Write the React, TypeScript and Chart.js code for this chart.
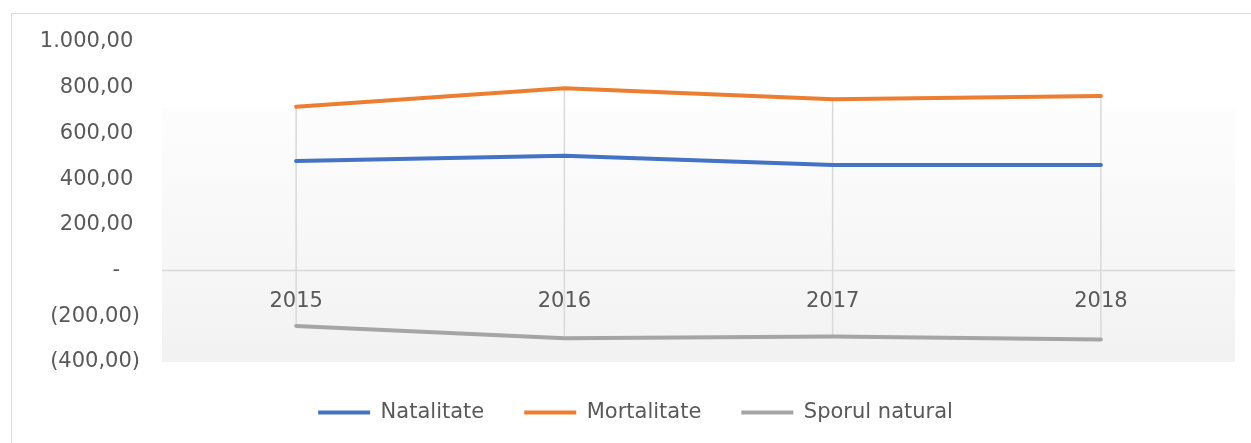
import React, { useEffect, useRef } from "react";
import { Chart, registerables } from "chart.js";

Chart.register(...registerables);

const categories = ["2015", "2016", "2017", "2018"];
const natalitate = [479, 502, 462, 462];
const mortalitate = [717, 798, 750, 764];
const sporulNatural = [-242, -296, -288, -302];
const seriesNames = ["Natalitate", "Mortalitate", "Sporul natural"];
const seriesColors = ["#4472C4", "#ED7D31", "#A5A5A5"];

const FONT = "'DejaVu Sans', sans-serif";
const TEXT = "#595959";

function fmt(v: number): string {
  if (v === 0) return "-\u2007 ";
  const abs = Math.abs(v);
  const [intPart, dec] = abs.toFixed(2).split(".");
  const withSep = intPart.replace(/\B(?=(\d{3})+(?!\d))/g, ".");
  const s = withSep + "," + dec;
  return v < 0 ? "(" + s + ")" : s + " ";
}

const bgPlugin = {
  id: "plotBg",
  beforeDraw(chart: any) {
    const { ctx, chartArea } = chart;
    const { left, right, top, bottom } = chartArea;
    const gTop = top + (bottom - top) * 0.206;
    const g = ctx.createLinearGradient(0, gTop, 0, bottom);
    g.addColorStop(0, "#fdfdfd");
    g.addColorStop(1, "#f2f2f2");
    ctx.save();
    ctx.fillStyle = g;
    ctx.fillRect(left, gTop, right - left, bottom - gTop);
    // zero line
    const y0 = chart.scales.y.getPixelForValue(0);
    ctx.strokeStyle = "#d9d9d9";
    ctx.lineWidth = 1.5;
    ctx.beginPath();
    ctx.moveTo(left, y0);
    ctx.lineTo(right, y0);
    ctx.stroke();
    // drop lines
    const xs = chart.scales.x;
    const ys = chart.scales.y;
    categories.forEach((_, i) => {
      const vals = chart.data.datasets.map((d: any) => d.data[i] as number);
      const hi = Math.max(0, ...vals);
      const lo = Math.min(0, ...vals);
      const x = xs.getPixelForValue(i);
      ctx.beginPath();
      ctx.moveTo(x, ys.getPixelForValue(hi));
      ctx.lineTo(x, ys.getPixelForValue(lo));
      ctx.stroke();
    });
    ctx.restore();
  },
};

export default function App() {
  const ref = useRef<HTMLCanvasElement | null>(null);
  useEffect(() => {
    if (!ref.current) return;
    const series = [natalitate, mortalitate, sporulNatural];
    const chart = new Chart(ref.current, {
      type: "line",
      data: {
        labels: categories,
        datasets: series.map((data, i) => ({
          label: seriesNames[i],
          data,
          borderColor: seriesColors[i],
          backgroundColor: seriesColors[i],
          borderWidth: 4,
          borderCapStyle: "round",
          borderJoinStyle: "round",
          pointRadius: 0,
          pointStyle: "line",
          tension: 0,
        })),
      },
      options: {
        animation: false,
        responsive: false,
        maintainAspectRatio: false,
        layout: { padding: { left: 36, right: 16, top: 42, bottom: 10 } },
        plugins: {
          legend: {
            position: "bottom",
            labels: {
              usePointStyle: true,
              pointStyleWidth: 52,
              padding: 40,
              color: TEXT,
              font: { family: FONT, size: 21 },
            },
          },
          tooltip: { enabled: false },
        },
        scales: {
          x: {
            type: "category",
            offset: true,
            position: { y: 0 } as any,
            grid: { display: false, drawTicks: false },
            border: { display: false },
            ticks: {
              padding: 18,
              color: TEXT,
              font: { family: FONT, size: 21 },
              maxRotation: 0,
            },
          },
          y: {
            min: -400,
            max: 1000,
            grid: { display: false, drawTicks: false },
            border: { display: false },
            afterFit(scale: any) {
              scale.width = 126;
            },
            ticks: {
              stepSize: 200,
              padding: 22,
              color: TEXT,
              font: { family: FONT, size: 21 },
              callback: (v: any) => fmt(Number(v)),
            },
          },
        },
      },
      plugins: [bgPlugin],
    });
    return () => chart.destroy();
  }, []);

  return (
    <div
      style={{
        position: "absolute",
        left: 0,
        top: 0,
        width: 1251,
        height: 443,
        overflow: "hidden",
        background: "#ffffff",
      }}
    >
      <canvas
        ref={ref}
        width={1251}
        height={443}
        style={{ position: "absolute", left: 0, top: 0, width: 1251, height: 443 }}
      />
      <div
        style={{
          position: "absolute",
          left: 10.5,
          top: 12.5,
          width: 1300,
          height: 500,
          border: "1.5px solid #d9d9d9",
          pointerEvents: "none",
        }}
      />
    </div>
  );
}
